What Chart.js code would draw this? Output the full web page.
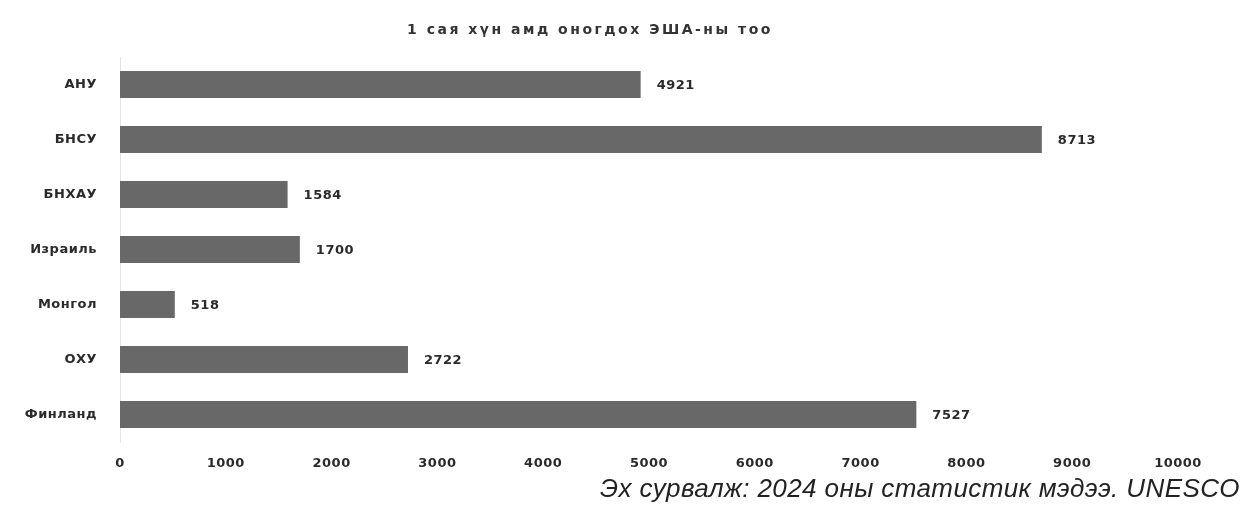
<!DOCTYPE html>
<html lang="mn">
<head>
  <meta charset="UTF-8">
  <title>1 сая хүн амд оногдох ЭША-ны тоо</title>
  <script src="https://cdn.jsdelivr.net/npm/chart.js"></script>
  <style>
    html, body { margin: 0; padding: 0; background: #fff; }
    #wrap { position: relative; width: 1246px; height: 508px; }
    #source {
      position: absolute; right: 6px; bottom: 4px;
      font-family: "Liberation Sans", Arial, sans-serif;
      font-style: italic; font-size: 26px; letter-spacing: 0.4px; color: #222;
    }
  </style>
</head>
<body>
  <div id="wrap">
    <canvas id="chart" width="1246" height="508"></canvas>
    <div id="source">Эх сурвалж: 2024 оны статистик мэдээ. UNESCO</div>
  </div>

  <script>
    const chartTitle = '1 сая хүн амд оногдох ЭША-ны тоо';
    const countries = ['АНУ', 'БНСУ', 'БНХАУ', 'Израиль', 'Монгол', 'ОХУ', 'Финланд'];
    const researchers = [4921, 8713, 1584, 1700, 518, 2722, 7527];
    const xMax = 10000;
    const xStep = 1000;

    const fontFamily = '"DejaVu Sans", "Liberation Sans", Arial, sans-serif';

    // slightly wider lettering like the scanned original
    const spacing = {
      id: 'spacing',
      beforeDraw(chart) { chart.ctx.letterSpacing = '0.5px'; }
    };

    // value labels and title drawn by hand
    const extras = {
      id: 'extras',
      afterDatasetsDraw(chart) {
        const ctx = chart.ctx;
        const meta = chart.getDatasetMeta(0);
        ctx.save();
        ctx.letterSpacing = '0.5px';
        ctx.font = 'bold 13px ' + fontFamily;
        ctx.fillStyle = '#2a2a2a';
        ctx.textBaseline = 'middle';
        meta.data.forEach((bar, i) => {
          ctx.fillText(String(researchers[i]), bar.x + 16, bar.y + 1);
        });
        ctx.font = 'bold 14px ' + fontFamily;
        ctx.letterSpacing = '2.5px';
        ctx.fillStyle = '#333';
        ctx.textAlign = 'center';
        ctx.fillText(chartTitle, 590, 30);
        ctx.restore();
      }
    };

    new Chart(document.getElementById('chart'), {
      type: 'bar',
      data: {
        labels: countries,
        datasets: [{
          data: researchers,
          backgroundColor: '#686868',
          barPercentage: 0.98,
          categoryPercentage: 0.5
        }]
      },
      options: {
        indexAxis: 'y',
        responsive: false,
        animation: false,
        layout: { padding: { left: 0, right: 68, top: 57, bottom: 36 } },
        plugins: {
          legend: { display: false },
          tooltip: { enabled: false },
          title: { display: false }
        },
        scales: {
          x: {
            min: 0,
            max: xMax,
            ticks: {
              stepSize: xStep,
              color: '#2a2a2a',
              padding: 6,
              font: { family: fontFamily, size: 13, weight: 'bold' },
              callback: v => String(v)
            },
            grid: { display: false },
            border: { display: false },
            afterFit(scale) { scale.height = 30; }
          },
          y: {
            ticks: {
              color: '#2a2a2a',
              padding: 15,
              font: { family: fontFamily, size: 13, weight: 'bold' }
            },
            grid: { display: false },
            border: { display: true, color: '#e4e4e4' },
            afterFit(scale) { scale.width = 120; }
          }
        }
      },
      plugins: [spacing, extras]
    });
  </script>
</body>
</html>
